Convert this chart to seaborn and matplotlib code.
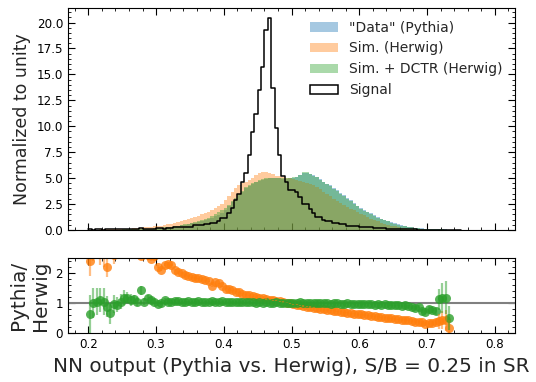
import numpy as np
import pandas as pd
import matplotlib
matplotlib.use("Agg")
import matplotlib.pyplot as plt
from matplotlib.patches import Patch
from matplotlib.ticker import AutoMinorLocator
import seaborn as sns

# histogram bins: 0.005 wide starting at 0.2
bin_lo = 0.2
bin_w = 0.005

# normalized histograms (one value per bin)
data_pythia = [
    0.01, 0.01, 0.01, 0.02, 0.02, 0.02, 0.02, 0.03, 0.03, 0.04,
    0.04, 0.05, 0.05, 0.06, 0.07, 0.08, 0.09, 0.10, 0.12, 0.14,
    0.17, 0.20, 0.23, 0.27, 0.31, 0.35, 0.40, 0.45, 0.50, 0.56,
    0.63, 0.70, 0.78, 0.87, 0.97, 1.08, 1.20, 1.33, 1.48, 1.65,
    1.90, 2.30, 2.65, 3.00, 3.35, 3.70, 4.00, 4.25, 4.45, 4.60,
    4.75, 4.85, 4.95, 5.00, 5.00, 5.00, 4.98, 4.95, 4.95, 5.00,
    5.05, 5.15, 5.30, 5.45, 5.50, 5.40, 5.30, 5.13, 4.90, 4.65,
    4.45, 4.30, 4.05, 3.85, 3.60, 3.40, 3.10, 2.85, 2.60, 2.35,
    2.15, 1.95, 1.78, 1.60, 1.42, 1.25, 1.10, 0.98, 0.88, 0.75,
    0.64, 0.55, 0.47, 0.39, 0.32, 0.27, 0.22, 0.18, 0.15, 0.12,
    0.10, 0.08, 0.07, 0.06, 0.05, 0.05, 0.04, 0.03, 0.02, 0.01,
]
sim_herwig = [
    0.02, 0.03, 0.03, 0.05, 0.05, 0.05, 0.06, 0.07, 0.08, 0.10,
    0.11, 0.13, 0.14, 0.16, 0.18, 0.21, 0.24, 0.27, 0.31, 0.35,
    0.39, 0.43, 0.49, 0.55, 0.61, 0.68, 0.76, 0.86, 0.95, 1.05,
    1.15, 1.26, 1.38, 1.50, 1.62, 1.76, 1.92, 2.10, 2.30, 2.55,
    2.90, 3.30, 3.70, 4.05, 4.30, 4.50, 4.65, 4.80, 5.00, 5.30,
    5.50, 5.55, 5.55, 5.45, 5.35, 5.25, 5.20, 5.10, 5.00, 4.97,
    4.90, 4.82, 4.75, 4.65, 4.55, 4.45, 4.33, 4.15, 3.95, 3.70,
    3.48, 3.25, 3.00, 2.80, 2.60, 2.40, 2.22, 2.05, 1.88, 1.72,
    1.55, 1.40, 1.25, 1.10, 0.96, 0.85, 0.70, 0.60, 0.50, 0.42,
    0.34, 0.28, 0.23, 0.18, 0.14, 0.11, 0.09, 0.07, 0.05, 0.04,
    0.03, 0.03, 0.02, 0.02, 0.01, 0.01, 0.00, 0.00, 0.00, 0.00,
]
sim_dctr = [
    0.01, 0.01, 0.01, 0.02, 0.02, 0.02, 0.02, 0.03, 0.03, 0.04,
    0.05, 0.06, 0.06, 0.07, 0.07, 0.11, 0.09, 0.12, 0.13, 0.15,
    0.17, 0.20, 0.25, 0.28, 0.32, 0.38, 0.42, 0.48, 0.55, 0.62,
    0.70, 0.80, 0.90, 1.00, 1.06, 1.12, 1.30, 1.52, 1.70, 1.92,
    2.15, 2.40, 2.75, 3.10, 3.45, 3.80, 4.10, 4.30, 4.50, 4.65,
    4.80, 4.90, 4.97, 4.97, 4.97, 4.97, 4.97, 4.97, 4.97, 5.05,
    5.10, 5.13, 5.30, 5.60, 5.60, 5.38, 5.25, 5.10, 4.85, 4.60,
    4.40, 4.20, 3.95, 3.75, 3.50, 3.30, 3.00, 2.75, 2.50, 2.27,
    2.05, 1.85, 1.70, 1.52, 1.35, 1.18, 1.04, 0.92, 0.82, 0.70,
    0.60, 0.50, 0.43, 0.36, 0.30, 0.24, 0.20, 0.16, 0.13, 0.10,
    0.08, 0.06, 0.06, 0.05, 0.05, 0.04, 0.03, 0.02, 0.01, 0.00,
]
signal = [
    0.05, 0.04, 0.05, 0.05, 0.04, 0.05, 0.05, 0.05, 0.06, 0.05,
    0.05, 0.06, 0.05, 0.06, 0.06, 0.15, 0.07, 0.08, 0.07, 0.08,
    0.15, 0.16, 0.14, 0.16, 0.15, 0.25, 0.26, 0.30, 0.32, 0.33,
    0.33, 0.45, 0.48, 0.50, 0.58, 0.60, 0.64, 0.65, 0.90, 1.12,
    1.15, 1.60, 2.10, 2.90, 3.50, 4.65, 5.45, 7.20, 9.40, 11.20,
    13.50, 15.70, 19.30, 20.40, 13.70, 9.80, 7.20, 5.20, 4.65, 3.85,
    3.85, 3.70, 3.20, 2.50, 2.50, 2.00, 1.60, 1.28, 1.28, 1.00,
    0.90, 0.90, 0.70, 0.70, 0.58, 0.58, 0.38, 0.38, 0.38, 0.38,
    0.26, 0.26, 0.26, 0.26, 0.16, 0.16, 0.16, 0.16, 0.10, 0.10,
    0.10, 0.10, 0.08, 0.10, 0.08, 0.10, 0.05, 0.04, 0.03, 0.02,
    0.02, 0.01, 0.02, 0.01, 0.01, 0.00, 0.00, 0.00, 0.00, 0.00,
]

# ratio panel, one point per bin from 0.2025 on
ratio_sim = [
    2.40, 2.90, 3.00, 2.70, 2.65, 2.18, 2.80, 2.58, 2.90, 3.10,
    2.80, 3.00, 2.90, 2.70, 2.80, 2.55, 2.70, 2.60, 2.45, 2.55,
    2.21, 2.10, 2.27, 2.30, 2.27, 2.10, 2.02, 1.99, 1.92, 1.90,
    1.85, 1.83, 1.82, 1.80, 1.76, 1.72, 1.55, 1.70, 1.65, 1.56,
    1.48, 1.46, 1.42, 1.38, 1.35, 1.31, 1.28, 1.25, 1.22, 1.20,
    1.17, 1.15, 1.13, 1.11, 1.09, 1.07, 1.05, 1.03, 1.01, 0.99,
    0.96, 0.94, 0.92, 0.90, 0.88, 0.87, 0.85, 0.83, 0.81, 0.79,
    0.77, 0.76, 0.74, 0.72, 0.71, 0.69, 0.68, 0.66, 0.65, 0.63,
    0.62, 0.60, 0.59, 0.57, 0.56, 0.54, 0.53, 0.51, 0.50, 0.49,
    0.47, 0.46, 0.44, 0.43, 0.42, 0.40, 0.38, 0.37, 0.36, 0.30,
    0.33, 0.32, 0.36, 0.40, 0.44, 0.42, 0.18,
]
ratio_sim_err = [
    0.50, 0.50, 0.50, 0.45, 0.45, 0.30, 0.30, 0.28, 0.25, 0.22,
    0.20, 0.18, 0.16, 0.14, 0.12, 0.10, 0.09, 0.08, 0.07, 0.06,
    0.06, 0.05, 0.05, 0.05, 0.04, 0.04, 0.04, 0.03, 0.03, 0.03,
    0.03, 0.03, 0.02, 0.02, 0.02, 0.02, 0.02, 0.02, 0.02, 0.02,
    0.02, 0.02, 0.02, 0.02, 0.02, 0.02, 0.02, 0.02, 0.02, 0.02,
    0.02, 0.02, 0.02, 0.02, 0.02, 0.02, 0.02, 0.02, 0.02, 0.02,
    0.02, 0.02, 0.02, 0.02, 0.02, 0.02, 0.02, 0.02, 0.02, 0.02,
    0.02, 0.02, 0.02, 0.02, 0.02, 0.02, 0.02, 0.02, 0.02, 0.02,
    0.02, 0.02, 0.02, 0.02, 0.02, 0.02, 0.02, 0.02, 0.02, 0.02,
    0.02, 0.02, 0.03, 0.03, 0.03, 0.04, 0.04, 0.05, 0.05, 0.06,
    0.07, 0.08, 0.10, 0.25, 0.30, 0.35, 0.25,
]
ratio_dctr = [
    0.62, 1.00, 1.04, 1.10, 1.04, 0.88, 0.66, 0.97, 0.94, 1.04,
    1.18, 1.16, 1.10, 1.12, 1.04, 1.42, 1.04, 1.16, 1.10, 1.04,
    0.97, 1.00, 1.10, 1.04, 1.04, 1.08, 1.06, 1.02, 1.04, 1.05,
    1.03, 1.04, 1.06, 1.02, 1.04, 1.03, 1.05, 1.04, 1.03, 1.05,
    1.04, 1.02, 1.03, 1.04, 1.02, 1.03, 1.02, 1.03, 1.02, 1.01,
    1.02, 1.01, 1.02, 1.00, 1.01, 1.02, 1.00, 1.01, 1.00, 1.01,
    1.00, 1.01, 1.02, 1.00, 0.99, 1.01, 1.00, 0.99, 1.00, 0.99,
    1.00, 0.98, 0.99, 1.00, 0.98, 0.97, 0.99, 0.98, 0.97, 0.98,
    0.96, 0.97, 0.98, 0.96, 0.95, 0.97, 0.94, 0.96, 0.93, 0.94,
    0.92, 0.93, 0.91, 0.92, 0.90, 0.86, 0.84, 0.88, 0.74, 0.70,
    0.80, 0.76, 0.72, 1.12, 1.16, 1.18, 0.49,
]
ratio_dctr_err = [
    0.65, 0.50, 0.45, 0.40, 0.45, 0.35, 0.35, 0.30, 0.25, 0.25,
    0.25, 0.20, 0.20, 0.15, 0.15, 0.15, 0.12, 0.10, 0.09, 0.08,
    0.07, 0.06, 0.06, 0.05, 0.05, 0.04, 0.04, 0.04, 0.03, 0.03,
    0.03, 0.03, 0.03, 0.02, 0.02, 0.02, 0.02, 0.02, 0.02, 0.02,
    0.02, 0.02, 0.02, 0.02, 0.02, 0.02, 0.02, 0.02, 0.02, 0.02,
    0.02, 0.02, 0.02, 0.02, 0.02, 0.02, 0.02, 0.02, 0.02, 0.02,
    0.02, 0.02, 0.02, 0.02, 0.02, 0.02, 0.02, 0.02, 0.02, 0.02,
    0.02, 0.02, 0.02, 0.02, 0.02, 0.02, 0.02, 0.02, 0.02, 0.02,
    0.02, 0.02, 0.02, 0.02, 0.02, 0.02, 0.02, 0.02, 0.03, 0.03,
    0.03, 0.03, 0.04, 0.04, 0.05, 0.05, 0.06, 0.06, 0.07, 0.08,
    0.09, 0.10, 0.12, 0.35, 0.50, 0.55, 0.40,
]

labels = ['"Data" (Pythia)', "Sim. (Herwig)", "Sim. + DCTR (Herwig)", "Signal"]
colors = ["tab:blue", "tab:orange", "tab:green"]

sns.set_style("ticks", {"xtick.direction": "in", "ytick.direction": "in",
                        "axes.edgecolor": "black", "xtick.color": "black",
                        "ytick.color": "black"})

edges = bin_lo + bin_w * np.arange(len(data_pythia) + 1)
centers = edges[:-1] + bin_w / 2
hist_df = pd.DataFrame({"x": centers, "data": data_pythia, "sim": sim_herwig,
                        "dctr": sim_dctr, "sig": signal})
ratio_df = pd.DataFrame({"x": centers[:len(ratio_sim)],
                         "sim": ratio_sim, "sim_err": ratio_sim_err,
                         "dctr": ratio_dctr, "dctr_err": ratio_dctr_err})

fig = plt.figure(figsize=(5.36, 3.82), dpi=100)
ax = fig.add_axes([0.127, 0.398, 0.834, 0.581])
rax = fig.add_axes([0.127, 0.128, 0.834, 0.197], sharex=ax)

# top panel: transparent histograms drawn over each other
for col, c in zip(["data", "sim", "dctr"], colors):
    sns.histplot(data=hist_df, x="x", weights=col, bins=list(edges),
                 element="step", fill=True, alpha=0.4, linewidth=0,
                 color=c, ax=ax)
sns.histplot(data=hist_df, x="x", weights="sig", bins=list(edges),
             element="step", fill=False, color="black", linewidth=1.1, ax=ax)

handles = [Patch(facecolor=c, alpha=0.4, linewidth=0) for c in colors]
handles.append(Patch(facecolor="white", edgecolor="black", linewidth=1.1))
ax.legend(handles, labels, loc="upper right", frameon=False, fontsize=10)

ax.set_ylim(0, 21.4)
ax.set_xlim(0.17, 0.83)
ax.set_ylabel("Normalized to unity", fontsize=12.5)
ax.set_xlabel("")
ax.tick_params(labelbottom=False)

# ratio panel
rax.axhline(1, color="gray", linewidth=1.5, zorder=1)
rax.errorbar(ratio_df["x"], ratio_df["sim"], yerr=ratio_df["sim_err"],
             fmt="none", ecolor="tab:orange", elinewidth=1.6, alpha=0.5)
sns.scatterplot(data=ratio_df, x="x", y="sim", color="tab:orange", s=42,
                alpha=0.8, linewidth=0, ax=rax)
rax.errorbar(ratio_df["x"], ratio_df["dctr"], yerr=ratio_df["dctr_err"],
             fmt="none", ecolor="tab:green", elinewidth=1.6, alpha=0.5)
sns.scatterplot(data=ratio_df, x="x", y="dctr", color="tab:green", s=42,
                alpha=0.8, linewidth=0, ax=rax)
rax.set_ylim(0, 2.5)
rax.set_yticks([0, 1, 2])
rax.set_ylabel("Pythia/\nHerwig", fontsize=14.4)
rax.set_xlabel("NN output (Pythia vs. Herwig), S/B = 0.25 in SR", fontsize=14.4)

for a in (ax, rax):
    a.xaxis.set_minor_locator(AutoMinorLocator())
    a.yaxis.set_minor_locator(AutoMinorLocator())
    a.tick_params(which="both", direction="in", top=True, right=True,
                  labelsize=8.6)
    a.tick_params(which="major", length=5)
    a.tick_params(which="minor", length=2.5)

fig.savefig("out.png", dpi=100)
